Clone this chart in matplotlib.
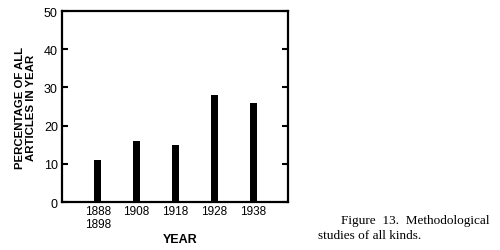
import matplotlib
matplotlib.use("Agg")
import matplotlib.pyplot as plt

categories = ["1888\n1898", "1908", "1918", "1928", "1938"]
values = [11, 16, 15, 28, 26]
yticks = [0, 10, 20, 30, 40, 50]

plt.rcParams['font.family'] = ['Liberation Sans', 'DejaVu Sans']

fig = plt.figure(figsize=(5.0, 2.51), dpi=100)
ax = fig.add_axes([0.124, 0.191, 0.452, 0.761])
x = list(range(len(categories)))
ax.bar(x, values, width=0.18, color="black")
ax.set_xlim(-0.92, 4.9)
ax.set_ylim(0, 50)
ax.set_yticks(yticks)
ax.set_yticklabels([str(t) for t in yticks], fontsize=9)
ax.set_xticks(x)
ax.set_xticklabels(categories, fontsize=8.5, linespacing=1.15, va="top")
ax.tick_params(axis="x", length=0, pad=2)
ax.tick_params(axis="y", direction="in", length=4, width=1.5, pad=3, right=True)
for s in ax.spines.values():
    s.set_linewidth(1.6)
ax.set_ylabel("PERCENTAGE OF ALL\nARTICLES IN YEAR", fontsize=8.2, fontweight="bold",
              linespacing=1.05, labelpad=6)
fig.text(0.36, 0.044, "YEAR", fontsize=9, fontweight="bold", ha="center", va="center")

serif = ["Liberation Serif", "DejaVu Serif"]
fig.text(0.682, 0.12, "Figure  13.  Methodological", fontsize=9.5,
         family=serif, ha="left", va="center")
fig.text(0.636, 0.06, "studies of all kinds.", fontsize=9.5,
         family=serif, ha="left", va="center")

fig.savefig("out.png", dpi=100)
